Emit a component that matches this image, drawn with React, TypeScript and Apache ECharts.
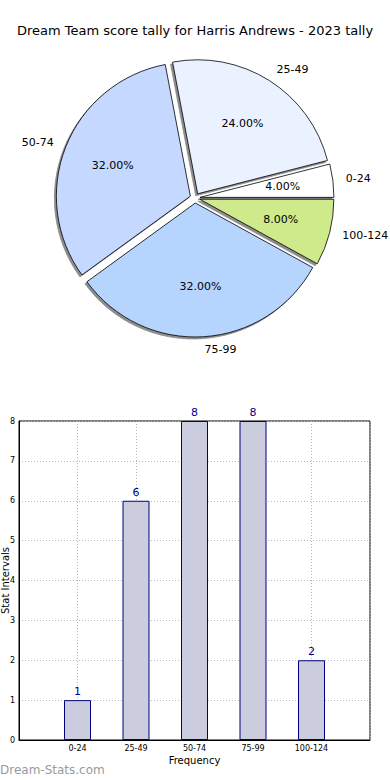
import React, { useEffect, useRef } from "react";
import * as echarts from "echarts";

const TITLE = "Dream Team score tally for Harris Andrews - 2023 tally";
const categories = ["0-24", "25-49", "50-74", "75-99", "100-124"];
const counts = [1, 6, 8, 8, 2];
const pieColors = ["#ffffff", "#eaf2ff", "#c5d8ff", "#b5d5ff", "#cfea8b"];
const yTicks = [0, 1, 2, 3, 4, 5, 6, 7, 8];

const FONT = "DejaVu Sans";

export default function App() {
  const ref = useRef<HTMLDivElement>(null);
  useEffect(() => {
    const chart = echarts.init(ref.current!, null, { renderer: "svg" });
    const total = counts.reduce((a, b) => a + b, 0);
    const pieData = categories.map((c, i) => ({
      name: c,
      value: counts[i],
      selected: true,
      itemStyle: { color: pieColors[i] },
    }));
    const labelData = categories.map((c, i) => ({
      name: c,
      value: counts[i],
      selected: true,
    }));
    const R = 134;
    chart.setOption({
      animation: false,
      textStyle: { fontFamily: FONT },
      title: {
        text: TITLE,
        left: "center",
        top: 19,
        textStyle: { fontFamily: FONT, fontSize: 13, fontWeight: "normal", color: "#000" },
      },
      graphic: [
        {
          type: "text",
          left: 0,
          top: 764,
          style: { text: "Dream-Stats.com", fontFamily: FONT, fontSize: 12, fill: "#9a9a9a" },
        },
      ],
      grid: {
        left: 19,
        right: 20,
        top: 421,
        bottom: 40,
        show: true,
        borderColor: "#000",
        borderWidth: 1,
        containLabel: false,
        outerBoundsMode: "none",
      },
      xAxis: {
        type: "value",
        min: 0,
        max: 6,
        interval: 1,
        name: "Frequency",
        nameLocation: "middle",
        nameGap: 15,
        nameMoveOverlap: false,
        nameTextStyle: { fontFamily: FONT, fontSize: 10, color: "#000" },
        axisLine: { show: true, lineStyle: { color: "#000" } },
        axisTick: { show: false },
        axisLabel: {
          fontFamily: FONT,
          fontSize: 8,
          color: "#000",
          margin: 4,
          formatter: (v: number) => (v >= 1 && v <= 5 ? categories[v - 1] : ""),
        },
        splitLine: {
          show: true,
          lineStyle: { color: "#b8b8b8", type: [1, 2], width: 1 },
        },
      },
      yAxis: {
        type: "value",
        min: yTicks[0],
        max: yTicks[yTicks.length - 1],
        interval: 1,
        name: "Stat Intervals",
        nameLocation: "middle",
        nameGap: 9,
        nameMoveOverlap: false,
        nameTextStyle: { fontFamily: FONT, fontSize: 10, color: "#000" },
        axisLine: { show: true, lineStyle: { color: "#000" } },
        axisTick: { show: false },
        axisLabel: { fontFamily: FONT, fontSize: 8, color: "#000", margin: 4 },
        splitLine: {
          show: true,
          lineStyle: { color: "#b8b8b8", type: [1, 2], width: 1 },
        },
      },
      series: [
        {
          type: "pie",
          center: [195, 198],
          radius: [0, R],
          startAngle: 0,
          clockwise: false,
          selectedMode: "multiple",
          selectedOffset: 5,
          avoidLabelOverlap: false,
          itemStyle: {
            borderColor: "#000",
            borderWidth: 0.8,
            shadowColor: "rgba(0,0,0,0.45)",
            shadowBlur: 0,
            shadowOffsetX: -2,
            shadowOffsetY: 2,
          },
          emphasis: { disabled: true },
          select: { itemStyle: { borderColor: "#000", borderWidth: 0.8 } },
          label: {
            show: true,
            position: "outside",
            formatter: "{b}",
            fontFamily: FONT,
            fontSize: 11,
            color: "#000",
            overflow: "none",
            distanceToLabelLine: 0,
          },
          labelLine: { show: false, length: 13, length2: 0 },
          data: pieData,
        },
        {
          type: "pie",
          center: [195, 198],
          radius: [0, R * 1.2],
          startAngle: 0,
          clockwise: false,
          selectedMode: "multiple",
          selectedOffset: 5,
          silent: true,
          itemStyle: { color: "rgba(0,0,0,0)", borderWidth: 0 },
          emphasis: { disabled: true },
          select: { itemStyle: { color: "rgba(0,0,0,0)", borderWidth: 0 } },
          label: {
            show: true,
            position: "inside",
            fontFamily: FONT,
            fontSize: 11,
            color: "#000",
            formatter: (p: any) => ((p.value / total) * 100).toFixed(2) + "%",
          },
          labelLine: { show: false },
          data: labelData,
          z: 5,
        },
        {
          type: "bar",
          barWidth: 27,
          data: counts.map((v, i) => [i + 1, v]),
          itemStyle: { color: "#ccccdf", borderColor: "#000080", borderWidth: 1 },
          label: {
            show: true,
            position: "top",
            distance: 3,
            fontFamily: FONT,
            fontSize: 11,
            color: "#00008b",
          },
          emphasis: { disabled: true },
          z: 1,
        },
      ],
    });
    return () => chart.dispose();
  }, []);
  return (
    <div
      ref={ref}
      style={{ position: "fixed", left: 0, top: 0, width: 390, height: 780, background: "#fff" }}
    />
  );
}
